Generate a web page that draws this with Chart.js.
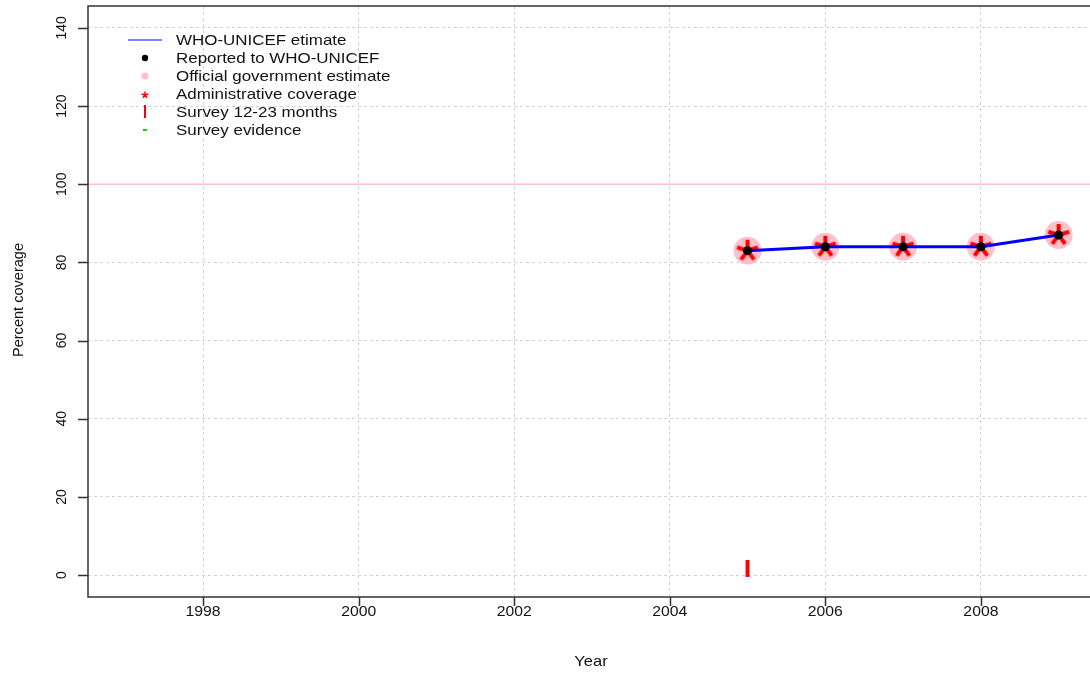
<!DOCTYPE html>
<html lang="en">
<head>
    <meta charset="UTF-8">
    <title>Percent coverage</title>
    <script src="https://cdn.jsdelivr.net/npm/chart.js@4/dist/chart.umd.min.js"></script>
    <style>
        html, body { margin: 0; padding: 0; background: #fff; overflow: hidden; }
        canvas { display: block; }
    </style>
</head>
<body>
<canvas id="stage" width="1096" height="673"></canvas>
<script>
    // data
    const years = [2005, 2006, 2007, 2008, 2009];
    const whoUnicef = [83, 84, 84, 84, 87];
    const reported = [83, 84, 84, 84, 87];
    const official = [83, 84, 84, 84, 87];
    const admin = [83, 84, 84, 84, 87];
    const surveyYears = [2005];
    const survey1223 = [1.7];
    const surveyEvidence = [];
    const xTicks = [1998, 2000, 2002, 2004, 2006, 2008];
    const yTicks = [0, 20, 40, 60, 80, 100, 120, 140];
    const targetLine = 100;

    const FONT = '"Liberation Sans", Arial, sans-serif';

    function pts(xs, ys) {
        return xs.map((x, i) => ({x: x, y: ys[i]}));
    }

    // red "*" like the R plotting character
    function asterisk(r, w) {
        const c = document.createElement('canvas');
        const n = Math.ceil(r * 2 + w * 2);
        c.width = n; c.height = n;
        const g = c.getContext('2d');
        g.strokeStyle = '#ff0000';
        g.lineWidth = w;
        g.lineCap = 'butt';
        g.beginPath();
        for (let k = 0; k < 5; k++) {
            const ang = k * 2 * Math.PI / 5;
            g.moveTo(n / 2, n / 2);
            g.lineTo(n / 2 + r * Math.sin(ang), n / 2 - r * Math.cos(ang));
        }
        g.stroke();
        return c;
    }

    // text a bit wider than normal, like the R png device
    function wideText(ctx, txt, x, y, size, stretch) {
        ctx.save();
        ctx.font = size + 'px ' + FONT;
        ctx.translate(x, y);
        ctx.scale(stretch, 1);
        ctx.fillText(txt, 0, 0);
        ctx.restore();
    }

    const frame = {
        id: 'frame',
        beforeDatasetsDraw(chart) {
            const ctx = chart.ctx, a = chart.chartArea;
            const y = chart.scales.y.getPixelForValue(targetLine);
            ctx.save();
            ctx.strokeStyle = '#ffc0cb';
            ctx.lineWidth = 1.5;
            ctx.beginPath();
            ctx.moveTo(a.left, y);
            ctx.lineTo(a.right, y);
            ctx.stroke();
            ctx.restore();
        },
        afterDraw(chart) {
            const ctx = chart.ctx, a = chart.chartArea;
            const xs = chart.scales.x, ys = chart.scales.y;
            ctx.save();
            ctx.strokeStyle = '#333';
            ctx.lineWidth = 1.5;
            ctx.beginPath();
            ctx.moveTo(a.right + 2, a.top);
            ctx.lineTo(a.left, a.top);
            ctx.lineTo(a.left, a.bottom);
            ctx.lineTo(a.right + 2, a.bottom);
            // tick marks
            xTicks.forEach(v => {
                const px = Math.round(xs.getPixelForValue(v)) + 0.5;
                ctx.moveTo(px, a.bottom);
                ctx.lineTo(px, a.bottom + 9);
            });
            yTicks.forEach(v => {
                const py = Math.round(ys.getPixelForValue(v)) + 0.5;
                ctx.moveTo(a.left, py);
                ctx.lineTo(a.left - 10, py);
            });
            ctx.stroke();

            ctx.fillStyle = '#111';
            ctx.textAlign = 'center';
            ctx.textBaseline = 'middle';
            xTicks.forEach(v => {
                wideText(ctx, String(v), xs.getPixelForValue(v), a.bottom + 15, 15, 1.05);
            });
            yTicks.forEach(v => {
                ctx.save();
                ctx.translate(62, ys.getPixelForValue(v));
                ctx.rotate(-Math.PI / 2);
                wideText(ctx, String(v), 0, 0, 14, 1.0);
                ctx.restore();
            });
            wideText(ctx, 'Year', 591, 662, 15, 1.1);
            ctx.save();
            ctx.translate(19, 300);
            ctx.rotate(-Math.PI / 2);
            wideText(ctx, 'Percent coverage', 0, 0, 14, 1.04);
            ctx.restore();

            // legend
            const lx = 145, ly0 = 40, step = 18;
            const labels = ['WHO-UNICEF etimate', 'Reported to WHO-UNICEF',
                'Official government estimate', 'Administrative coverage',
                'Survey 12-23 months', 'Survey evidence'];
            ctx.textAlign = 'left';
            labels.forEach((t, i) => wideText(ctx, t, 176, ly0 + i * step + 1, 15, 1.13));

            ctx.strokeStyle = '#0000ff';
            ctx.lineWidth = 1.2;
            ctx.beginPath();
            ctx.moveTo(128, ly0);
            ctx.lineTo(162, ly0);
            ctx.stroke();

            ctx.fillStyle = '#000';
            ctx.beginPath();
            ctx.arc(lx, ly0 + step, 3.2, 0, Math.PI * 2);
            ctx.fill();

            ctx.fillStyle = '#ffc0cb';
            ctx.beginPath();
            ctx.arc(lx, ly0 + 2 * step, 3.5, 0, Math.PI * 2);
            ctx.fill();

            ctx.drawImage(asterisk(3.5, 1.5), lx - 5, ly0 + 3 * step - 4);

            ctx.strokeStyle = '#ff0000';
            ctx.lineWidth = 2;
            ctx.beginPath();
            ctx.moveTo(lx, ly0 + 4 * step - 7);
            ctx.lineTo(lx, ly0 + 4 * step + 6);
            ctx.stroke();

            ctx.strokeStyle = '#00dd00';
            ctx.beginPath();
            ctx.moveTo(lx - 2, ly0 + 5 * step);
            ctx.lineTo(lx + 2, ly0 + 5 * step);
            ctx.stroke();
            ctx.restore();
        }
    };

    const gridOpts = {color: '#d3d3d3', lineWidth: 1, drawTicks: false};

    new Chart(document.getElementById('stage'), {
        type: 'scatter',
        data: {
            datasets: [
                {
                    label: 'WHO-UNICEF etimate', type: 'line', order: 1,
                    data: pts(years, whoUnicef), borderColor: '#0000ff', borderWidth: 3,
                    pointRadius: 0, fill: false, tension: 0
                },
                {
                    label: 'Reported to WHO-UNICEF', order: 0,
                    data: pts(years, reported), backgroundColor: '#000', borderColor: '#000',
                    pointRadius: 4.5, pointBorderWidth: 0
                },
                {
                    label: 'Official government estimate', order: 3,
                    data: pts(years, official), backgroundColor: '#ffc0cb', borderColor: '#ffc0cb',
                    pointRadius: 14, pointBorderWidth: 0
                },
                {
                    label: 'Administrative coverage', order: 2,
                    data: pts(years, admin),
                    pointStyle: asterisk(11, 4), pointRadius: 11
                },
                {
                    label: 'Survey 12-23 months', order: 4,
                    data: pts(surveyYears, survey1223), borderColor: '#ff0000',
                    pointStyle: 'line', rotation: 90, pointRadius: 8.5, pointBorderWidth: 4
                },
                {
                    label: 'Survey evidence', order: 5,
                    data: pts([], surveyEvidence), borderColor: '#00dd00',
                    pointStyle: 'line', pointRadius: 3, pointBorderWidth: 2
                }
            ]
        },
        options: {
            responsive: false,
            animation: false,
            devicePixelRatio: 1,
            layout: {autoPadding: false, padding: {top: 6, right: 0, left: 0, bottom: 0}},
            plugins: {legend: {display: false}, tooltip: {enabled: false}},
            scales: {
                x: {
                    type: 'linear', min: 1996.52, max: 2009.48,
                    afterBuildTicks: s => { s.ticks = xTicks.map(v => ({value: v})); },
                    afterFit: s => { s.height = 76; },
                    ticks: {display: false},
                    grid: gridOpts,
                    border: {display: false, dash: [3, 3]}
                },
                y: {
                    type: 'linear', min: -5.6, max: 145.6,
                    afterBuildTicks: s => { s.ticks = yTicks.map(v => ({value: v})); },
                    afterFit: s => { s.width = 88; },
                    ticks: {display: false},
                    grid: gridOpts,
                    border: {display: false, dash: [3, 3]}
                }
            }
        },
        plugins: [frame]
    });
</script>
</body>
</html>
